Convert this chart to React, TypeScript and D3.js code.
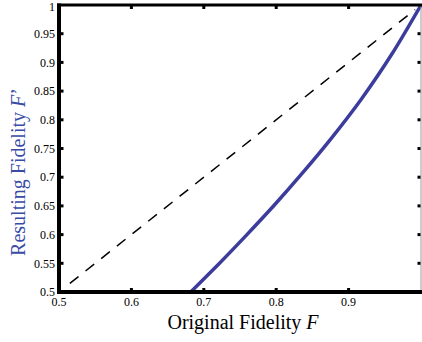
import React from "react";
import * as d3 from "d3";

// Datos
const originalF = [0.682, 0.7, 0.72, 0.757, 0.8, 0.834, 0.875, 0.917, 0.96, 1.0];
const resultingF = [0.5, 0.5225, 0.548, 0.5965, 0.655, 0.704, 0.766, 0.835, 0.915, 1.0];
const diagonal = [0.515, 0.992];
const xTicks = [0.5, 0.6, 0.7, 0.8, 0.9, 1];
const yTicks = [0.5, 0.55, 0.6, 0.65, 0.7, 0.75, 0.8, 0.85, 0.9, 0.95, 1];

const W = 422;
const H = 342;

export default function App() {
  const x = d3.scaleLinear().domain([0.5, 1]).range([59, 421]);
  const y = d3.scaleLinear().domain([0.5, 1]).range([292, 5]);

  const line = d3
    .line<number>()
    .x((d, i) => x(originalF[i]))
    .y((d) => y(d))
    .curve(d3.curveMonotoneX);

  const diag = d3
    .line<number>()
    .x((d) => x(d))
    .y((d) => y(d));

  const font = "'Liberation Serif', 'Times New Roman', serif";

  return (
    <svg
      width={W}
      height={H}
      style={{ position: "absolute", left: 0, top: 0, background: "#fff" }}
    >
      {/* diagonal y = x */}
      <path
        d={diag(diagonal) || ""}
        fill="none"
        stroke="#000"
        strokeWidth={1.5}
        strokeDasharray="11,9"
      />
      {/* curva */}
      <path
        d={line(resultingF) || ""}
        fill="none"
        stroke="#3c3c9c"
        strokeWidth={3.5}
      />

      {/* ejes */}
      <line x1={x(1)} x2={x(1)} y1={y(1)} y2={y(0.5)} stroke="#999" strokeWidth={1} />
      <line x1={57} x2={W} y1={y(1)} y2={y(1)} stroke="#000" strokeWidth={3} />
      <line x1={57} x2={W} y1={y(0.5)} y2={y(0.5)} stroke="#000" strokeWidth={4} />
      <line x1={x(0.5)} x2={x(0.5)} y1={y(1) - 1.5} y2={y(0.5) + 2} stroke="#000" strokeWidth={4} />

      {/* marcas */}
      {xTicks.slice(1, -1).map((t) => (
        <g key={"xt" + t}>
          <rect x={x(t) - 1.5} y={y(0.5) - 4} width={3} height={3} fill="#000" />
          <rect x={x(t) - 1.5} y={y(1) + 1} width={3} height={3} fill="#000" />
        </g>
      ))}
      {yTicks.slice(1, -1).map((t) => (
        <g key={"yt" + t}>
          <rect x={x(0.5) + 1.5} y={y(t) - 1.5} width={3} height={3} fill="#000" />
          <rect x={x(1) - 3.5} y={y(t) - 1.5} width={3} height={3} fill="#000" />
        </g>
      ))}

      {/* etiquetas (el "1" del eje x queda fuera del borde) */}
      {xTicks.slice(0, -1).map((t) => (
        <text
          key={"xl" + t}
          x={x(t)}
          y={306}
          textAnchor="middle"
          fontFamily={font}
          fontSize={12}
          fill="#000"
        >
          {d3.format("")(t)}
        </text>
      ))}
      {yTicks.map((t) => (
        <text
          key={"yl" + t}
          x={55}
          y={t === 1 ? 11 : y(t)}
          dy={t === 1 ? 0 : "0.35em"}
          textAnchor="end"
          fontFamily={font}
          fontSize={12}
          fill="#000"
        >
          {d3.format("")(t)}
        </text>
      ))}

      <text
        x={243}
        y={329}
        textAnchor="middle"
        fontFamily={font}
        fontSize={20}
        fill="#000"
      >
        Original Fidelity <tspan fontStyle="italic">F</tspan>
      </text>
      <text
        transform={`translate(25,${172}) rotate(-90)`}
        textAnchor="middle"
        fontFamily={font}
        fontSize={20}
        fill="#3a4ba6"
      >
        Resulting Fidelity <tspan fontStyle="italic">F</tspan>’
      </text>
    </svg>
  );
}
